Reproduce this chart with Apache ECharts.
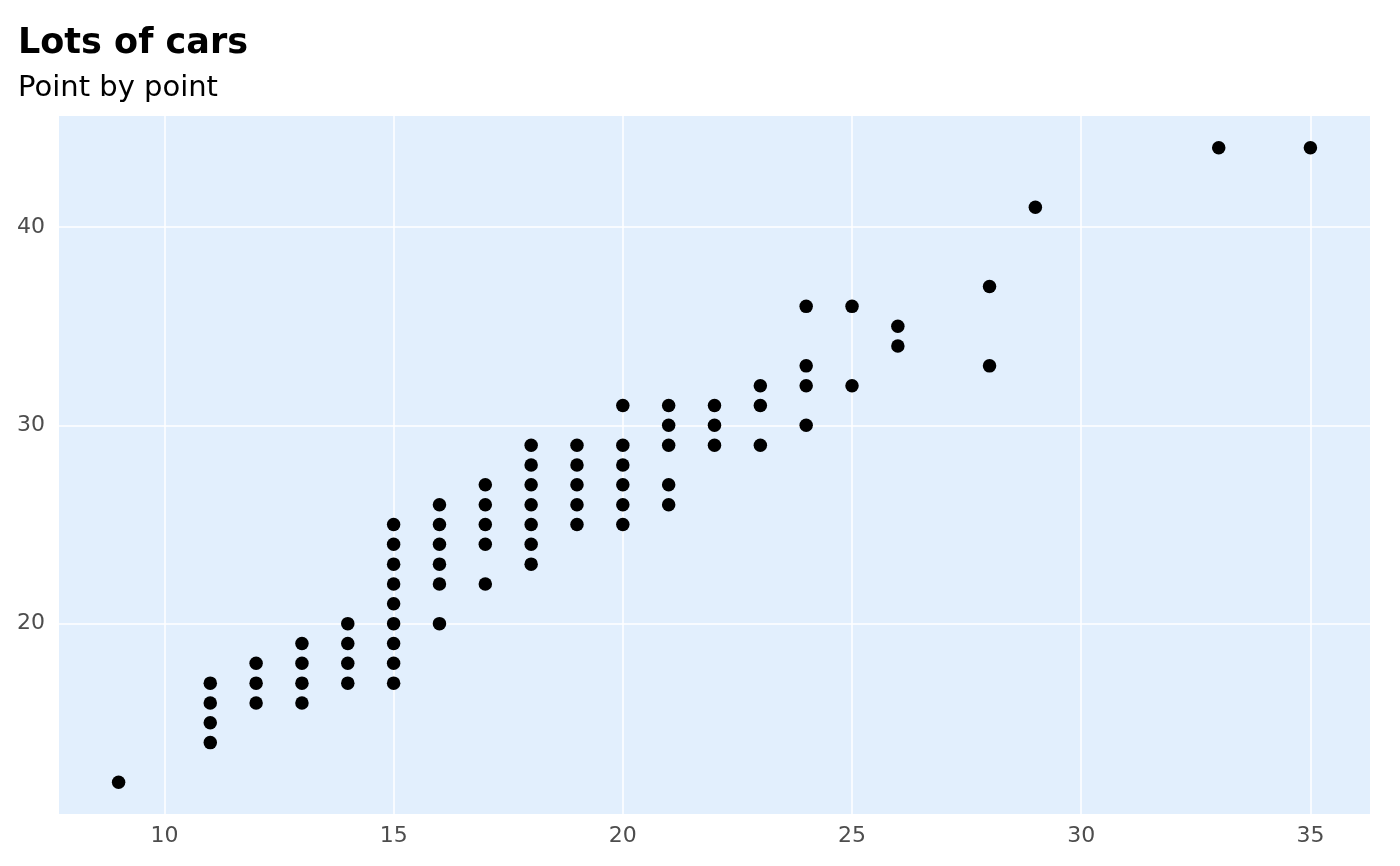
<!DOCTYPE html>
<html>
<head>
<meta charset="utf-8">
<script src="https://cdn.jsdelivr.net/npm/echarts@6/dist/echarts.min.js"></script>
<style>html,body{margin:0;padding:0;background:#fff;}#c{width:1400px;height:866px;}</style>
</head>
<body>
<div id="c"></div>
<script>
const titleText = "Lots of cars";
const subtitleText = "Point by point";
// city mpg (x) and highway mpg (y), unique points
const cty = [9, 11,11,11,11, 12,12,12, 13,13,13,13, 14,14,14,14,
  15,15,15,15,15,15,15,15,15, 16,16,16,16,16,16, 17,17,17,17,17,
  18,18,18,18,18,18,18, 19,19,19,19,19, 20,20,20,20,20,20,
  21,21,21,21,21, 22,22,22, 23,23,23, 24,24,24,24, 25,25, 26,26,
  28,28, 29, 33, 35];
const hwy = [12, 14,15,16,17, 16,17,18, 16,17,18,19, 17,18,19,20,
  17,18,19,20,21,22,23,24,25, 20,22,23,24,25,26, 22,24,25,26,27,
  23,24,25,26,27,28,29, 25,26,27,28,29, 25,26,27,28,29,31,
  26,27,29,30,31, 29,30,31, 29,31,32, 30,32,33,36, 32,36, 34,35,
  33,37, 41, 44, 44];
const xTicks = [10, 15, 20, 25, 30, 35];
const yTicks = [20, 30, 40];
const xRange = [7.7, 36.3];
const yRange = [10.4, 45.6];

const points = cty.map((x, i) => [x, hwy[i]]);
const chart = echarts.init(document.getElementById('c'));
const font = 'DejaVu Sans';
chart.setOption({
  animation: false,
  title: [
    { text: titleText, left: 13, top: 21, textStyle: { fontFamily: font, fontSize: 35, fontWeight: 'bold', color: '#000' } },
    { text: subtitleText, left: 13, top: 69, textStyle: { fontFamily: font, fontSize: 29, fontWeight: 'normal', color: '#000' } }
  ],
  grid: { left: 59, right: 30, top: 116, bottom: 52, show: true, backgroundColor: '#E2EFFD', borderWidth: 0 },
  xAxis: {
    type: 'value', min: xRange[0], max: xRange[1],
    axisLine: { show: false },
    axisTick: { show: false, customValues: xTicks },
    axisLabel: { customValues: xTicks, color: '#4D4D4D', fontFamily: font, fontSize: 22, margin: 11 },
    splitLine: { show: true, lineStyle: { color: '#ffffff', width: 1.5 } }
  },
  yAxis: {
    type: 'value', min: yRange[0], max: yRange[1],
    axisLine: { show: false },
    axisTick: { show: false, customValues: yTicks },
    axisLabel: { customValues: yTicks, color: '#4D4D4D', fontFamily: font, fontSize: 22, margin: 14 },
    splitLine: { show: true, lineStyle: { color: '#ffffff', width: 1.5 } }
  },
  series: [{
    type: 'scatter', data: points, symbolSize: 13.5,
    itemStyle: { color: '#000', opacity: 1 }
  }]
});
</script>
</body>
</html>
